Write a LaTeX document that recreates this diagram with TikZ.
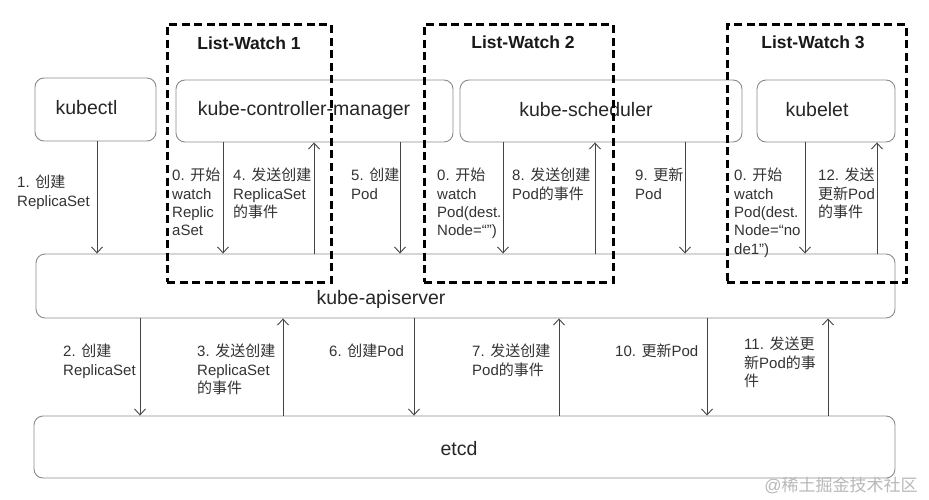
\documentclass[tikz,border=0pt]{standalone}
\usepackage{fontspec}
\setmainfont{Liberation Sans}
\newfontfamily\cjk{Noto Sans CJK SC}
\newcommand\zhs[1]{{\cjk #1}}
\usetikzlibrary{arrows.meta}
\definecolor{boxgray}{HTML}{8C8C8C}
\definecolor{labelgray}{HTML}{333333}
\definecolor{arrgray}{HTML}{444444}
\definecolor{wmgray}{HTML}{B8B8B8}
\begin{document}
\begin{tikzpicture}[x=1pt,y=-1pt,
  box/.style={draw=boxgray, line width=0.9pt, rounded corners=9pt, fill=white, inner sep=0pt},
  btext/.style={inner sep=0pt, font=\fontsize{19.5}{22}\selectfont, text=black!85},
  lbl/.style={anchor=north west, align=left, inner sep=0pt, font=\fontsize{15}{18.3}\selectfont, text=labelgray},
  arr/.style={draw=arrgray, line width=0.9pt, -{Straight Barb[length=6pt,width=11pt]}},
  lwbox/.style={draw=black, line width=3pt, dash pattern=on 8pt off 4.5pt, inner sep=0pt},
  lwtitle/.style={font=\fontsize{17.5}{20}\selectfont\bfseries, inner sep=0pt, text=black!90}]
\useasboundingbox[fill=white] (0,0) rectangle (929,500);

% boxes
\node[box, minimum width=121pt, minimum height=63pt] (kubectl) at (95.5,109.5) {};
\node[box, minimum width=277pt, minimum height=62pt] (cm) at (314.5,111) {};
\node[box, minimum width=282pt, minimum height=62pt] (sched) at (601,111) {};
\node[box, minimum width=138pt, minimum height=62pt] (kubelet) at (826,111) {};
\node[box, minimum width=859pt, minimum height=64pt] (api) at (465.5,286) {};
\node[box, minimum width=861pt, minimum height=62pt] (etcd) at (464.5,447) {};

% box texts
\node[btext] (kubectl-t) at (86.5,108) {kubectl};
\node[btext] (cm-t) at (304,110) {kube-controller-manager};
\node[btext] (sched-t) at (586,110) {kube-scheduler};
\node[btext] (kubelet-t) at (817,110) {kubelet};
\node[btext] (api-t) at (381,299) {kube-apiserver};
\node[btext] (etcd-t) at (459,449) {etcd};

% upper arrows
\draw[arr] (kubectl.south -| 97,0) -- (api.north -| 97,0);
\draw[arr] (cm.south -| 223,0) -- (api.north -| 223,0);
\draw[arr] (api.north -| 314,0) -- (cm.south -| 314,0);
\draw[arr] (cm.south -| 400,0) -- (api.north -| 400,0);
\draw[arr] (sched.south -| 503,0) -- (api.north -| 503,0);
\draw[arr] (api.north -| 595,0) -- (sched.south -| 595,0);
\draw[arr] (sched.south -| 685,0) -- (api.north -| 685,0);
\draw[arr] (kubelet.south -| 805,0) -- (api.north -| 805,0);
\draw[arr] (api.north -| 877,0) -- (kubelet.south -| 877,0);

% lower arrows
\draw[arr] (api.south -| 140,0) -- (etcd.north -| 140,0);
\draw[arr] (etcd.north -| 283,0) -- (api.south -| 283,0);
\draw[arr] (api.south -| 414,0) -- (etcd.north -| 414,0);
\draw[arr] (etcd.north -| 559,0) -- (api.south -| 559,0);
\draw[arr] (api.south -| 707,0) -- (etcd.north -| 707,0);
\draw[arr] (etcd.north -| 828,0) -- (api.south -| 828,0);

% upper labels
\node[lbl] (l1) at (17,175) {1. \zhs{创建}\\ReplicaSet};
\node[lbl] (l0a) at (172,168) {0. \zhs{开始}\\watch\\Replic\\aSet};
\node[lbl] (l4) at (233,168) {4. \zhs{发送创建}\\ReplicaSet\\\zhs{的事件}};
\node[lbl] (l5) at (351,168) {5. \zhs{创建}\\Pod};
\node[lbl] (l0b) at (437,168) {0. \zhs{开始}\\watch\\Pod(dest.\\Node=“”)};
\node[lbl] (l8) at (512,168) {8. \zhs{发送创建}\\Pod\zhs{的事件}};
\node[lbl] (l9) at (635,168) {9. \zhs{更新}\\Pod};
\node[lbl] (l0c) at (734,168) {0. \zhs{开始}\\watch\\Pod(dest.\\Node=“no\\de1”)};
\node[lbl] (l12) at (818,168) {12. \zhs{发送}\\\zhs{更新}Pod\\\zhs{的事件}};

% lower labels
\node[lbl] (l2) at (63,344) {2. \zhs{创建}\\ReplicaSet};
\node[lbl] (l3) at (197,344) {3. \zhs{发送创建}\\ReplicaSet\\\zhs{的事件}};
\node[lbl] (l6) at (329,344) {6. \zhs{创建}Pod};
\node[lbl] (l7) at (472,344) {7. \zhs{发送创建}\\Pod\zhs{的事件}};
\node[lbl] (l10) at (615,344) {10. \zhs{更新}Pod};
\node[lbl] (l11) at (744,337) {11. \zhs{发送更}\\\zhs{新}Pod\zhs{的事}\\\zhs{件}};

% list-watch boxes
\node[lwbox, minimum width=164pt, minimum height=257pt] (lw1) at (249,153.5) {};
\node[lwbox, minimum width=189pt, minimum height=257pt] (lw2) at (518.5,153.5) {};
\node[lwbox, minimum width=179pt, minimum height=257pt] (lw3) at (816.5,153.5) {};
\node[lwtitle] (lw1-t) at (249,43) {List-Watch 1};
\node[lwtitle] (lw2-t) at (523,42) {List-Watch 2};
\node[lwtitle] (lw3-t) at (813,42) {List-Watch 3};

% watermark
\node[inner sep=0pt, text=wmgray, font=\fontsize{17}{20}\selectfont] (wm) at (841,485) {@\zhs{稀土掘金技术社区}};
\end{tikzpicture}
\end{document}
